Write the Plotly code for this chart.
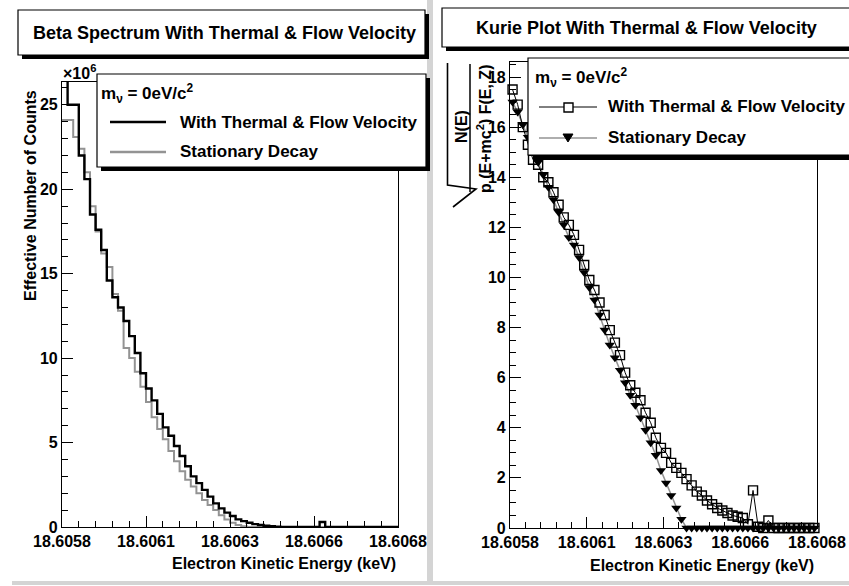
import numpy as np
import plotly.graph_objects as go

W, H = 849, 586

# ---------------- data ----------------
E_MIN, E_MAX, N_BINS = 18.6058, 18.6068, 60
x_tick_vals = [18.6058, 18.60605, 18.6063, 18.60655, 18.6068]
x_tick_text = ["18.6058", "18.6061", "18.6063", "18.6066", "18.6068"]
left_y_ticks = [0, 5, 10, 15, 20, 25]
right_y_ticks = [0, 2, 4, 6, 8, 10, 12, 14, 16, 18]

# effective number of counts (x10^6) per bin
thermal_counts = [27.0, 25.0, 25.0, 22.0, 20.6, 18.5, 17.6, 16.4, 14.6, 13.6,
                  13.0, 12.2, 11.3, 10.3, 9.1, 8.2, 7.5, 6.7, 5.9, 5.4,
                  4.8, 4.2, 3.6, 3.0, 2.6, 2.2, 1.8, 1.4, 1.1, 0.85,
                  0.65, 0.45, 0.35, 0.25, 0.17, 0.12, 0.07, 0.04, 0.02, 0.01,
                  0.005, 0.003, 0.002, 0.001, 0, 0, 0.3, 0, 0, 0,
                  0, 0, 0, 0, 0, 0, 0, 0, 0, 0]
stationary_counts = [24.1, 24.1, 23.1, 22.4, 21.0, 19.0, 17.5, 16.2, 15.4, 13.8,
                     12.8, 10.6, 10.0, 9.2, 8.3, 7.4, 6.5, 5.8, 5.2, 4.5,
                     3.9, 3.3, 2.8, 2.4, 2.0, 1.6, 1.3, 1.0, 0.7, 0.45,
                     0.25, 0.12, 0.05, 0, 0, 0, 0, 0, 0, 0,
                     0, 0, 0, 0, 0, 0, 0, 0, 0, 0,
                     0, 0, 0, 0, 0, 0, 0, 0, 0, 0]

# Kurie plot values per bin
kurie_thermal = [17.5, 16.9, 16.0, 15.3, 14.7, 14.5, 14.0, 13.8, 13.4, 12.9,
                 12.4, 12.1, 11.7, 11.1, 10.5, 9.9, 9.5, 9.0, 8.5, 7.9,
                 7.4, 6.9, 6.2, 5.7, 5.4, 5.1, 4.6, 4.2, 3.6, 3.2,
                 3.0, 2.6, 2.4, 2.2, 1.95, 1.7, 1.45, 1.3, 1.1, 0.95,
                 0.8, 0.7, 0.6, 0.5, 0.45, 0.4, 0.15, 1.5, 0.05, 0,
                 0.3, 0, 0, 0, 0, 0, 0, 0, 0, 0]
kurie_stationary = [17.0, 16.6, 16.1, 15.6, 15.1, 14.6, 14.1, 13.6, 13.1, 12.6,
                    12.1, 11.6, 11.3, 10.8, 10.2, 9.6, 9.1, 8.5, 7.9, 7.3,
                    6.8, 6.3, 5.8, 5.3, 4.9, 4.4, 3.9, 3.4, 2.9, 2.3,
                    1.8, 1.3, 0.8, 0.35, 0, 0, 0, 0, 0, 0,
                    0, 0, 0, 0, 0, 0, 0, 0, 0, 0,
                    0, 0, 0, 0, 0, 0, 0, 0, 0, 0]

# ---------------- helpers ----------------
edges = np.linspace(E_MIN, E_MAX, N_BINS + 1)
centers = 0.5 * (edges[:-1] + edges[1:])


def PX(x):
    return x / W


def PY(y):
    return 1 - y / H


FONT = "Liberation Sans, Arial, sans-serif"
GRAY = "#939393"

fig = go.Figure()

# left histograms
fig.add_trace(go.Scatter(x=edges, y=list(stationary_counts) + [stationary_counts[-1]],
                         mode="lines", line=dict(color=GRAY, width=2, shape="hv"),
                         xaxis="x", yaxis="y", showlegend=False, hoverinfo="skip"))
fig.add_trace(go.Scatter(x=edges, y=list(thermal_counts) + [thermal_counts[-1]],
                         mode="lines", line=dict(color="black", width=2.4, shape="hv"),
                         xaxis="x", yaxis="y", showlegend=False, hoverinfo="skip"))

# right Kurie plot
fig.add_trace(go.Scatter(x=centers, y=kurie_stationary, mode="lines+markers",
                         line=dict(color=GRAY, width=1.5),
                         marker=dict(symbol="triangle-down", size=9, color="black"),
                         xaxis="x2", yaxis="y2", cliponaxis=False, showlegend=False))
fig.add_trace(go.Scatter(x=centers, y=kurie_thermal, mode="lines+markers",
                         line=dict(color="black", width=1),
                         marker=dict(symbol="square-open", size=9, color="black",
                                     line=dict(width=1.4, color="black")),
                         xaxis="x2", yaxis="y2", cliponaxis=False, showlegend=False))

tickfont = dict(family=FONT, size=16, color="black", weight="bold")
minor_x = [v for v in np.round(np.arange(E_MIN, E_MAX + 1e-9, 0.00005), 6)]


def xaxis_cfg(x0, x1, anchor):
    return dict(domain=[PX(x0), PX(x1)], range=[E_MIN, E_MAX], anchor=anchor,
                automargin=False,
                tickmode="array", tickvals=x_tick_vals, ticktext=x_tick_text,
                ticks="inside", ticklen=11, tickwidth=1, tickcolor="black",
                minor=dict(tickmode="array", tickvals=minor_x, ticks="inside",
                           ticklen=6, tickwidth=1, tickcolor="black", showgrid=False),
                showline=True, mirror=True, linecolor="black", linewidth=1.2,
                showgrid=False, zeroline=False, tickfont=tickfont)


def yaxis_cfg(y0, y1, top, tickvals, minor_dt, anchor):
    return dict(domain=[PY(y0), PY(y1)], range=[0, top], anchor=anchor,
                automargin=False,
                tickmode="array", tickvals=tickvals,
                ticks="inside", ticklen=11, tickwidth=1, tickcolor="black",
                minor=dict(dtick=minor_dt, tick0=0, ticks="inside", ticklen=6, tickwidth=1,
                           tickcolor="black", showgrid=False),
                showline=True, mirror=True, linecolor="black", linewidth=1.2,
                showgrid=False, zeroline=False, tickfont=tickfont)


fig.update_layout(
    width=W, height=H, margin=dict(l=0, r=0, t=0, b=0, pad=0, autoexpand=False),
    paper_bgcolor="white", plot_bgcolor="white",
    xaxis=xaxis_cfg(62, 398, "y"),
    yaxis=yaxis_cfg(527, 82, 26.35, left_y_ticks, 1, "x"),
    xaxis2=xaxis_cfg(510, 817, "y2"),
    yaxis2=yaxis_cfg(528, 62, 18.6, right_y_ticks, 0.5, "x2"),
)

shapes = []
annotations = []


def rect(x0, y0, x1, y1, fill, line_color=None, lw=0):
    shapes.append(dict(type="rect", xref="paper", yref="paper",
                       x0=PX(x0), x1=PX(x1), y0=PY(y1), y1=PY(y0),
                       fillcolor=fill, line=dict(color=line_color or fill, width=lw),
                       layer="above"))


def line(x0, y0, x1, y1, color="black", width=1):
    shapes.append(dict(type="line", xref="paper", yref="paper",
                       x0=PX(x0), x1=PX(x1), y0=PY(y0), y1=PY(y1),
                       line=dict(color=color, width=width), layer="above"))


def path(points, color="black", width=1.5, fill=None):
    d = "M " + " L ".join(f"{PX(x):.5f},{PY(y):.5f}" for x, y in points)
    if fill:
        d += " Z"
    shapes.append(dict(type="path", xref="paper", yref="paper", path=d,
                       line=dict(color=color, width=width),
                       fillcolor=fill if fill else "rgba(0,0,0,0)", layer="above"))


def text(t, x, y, size=16, xanchor="center", angle=0):
    annotations.append(dict(text=t, x=PX(x), y=PY(y), xref="paper", yref="paper",
                            xanchor=xanchor, yanchor="middle", showarrow=False,
                            textangle=angle, borderpad=0,
                            font=dict(family=FONT, size=size, color="black", weight="bold")))


def pave(x0, y0, x1, y1, sh=4):
    rect(x0 + sh, y0 + sh, x1 + sh, y1 + sh, "black")
    rect(x0, y0, x1, y1, "white", "black", 1.2)


# pad borders
rect(427, 0, 433, 584, "#d4d4d4")
rect(12, 581, 849, 585, "#d4d4d4")

# titles
pave(18, 10, 425, 55)
text("Beta Spectrum With Thermal &amp; Flow Velocity", 224, 33, size=18)
pave(442, 8, 856, 47)
text("Kurie Plot With Thermal &amp; Flow Velocity", 646, 28, size=18)

# left legend
pave(97, 74, 426, 167)
text("m<sub>ν</sub> = 0eV/c<sup>2</sup>", 100, 93, size=17, xanchor="left")
line(110, 122, 166, 122, "black", 2.5)
text("With Thermal &amp; Flow Velocity", 179, 122, size=17, xanchor="left")
line(110, 152, 166, 152, GRAY, 2.5)
text("Stationary Decay", 179, 152, size=17, xanchor="left")

# right legend
pave(528, 58, 856, 155, sh=5)
text("m<sub>ν</sub> = 0eV/c<sup>2</sup>", 534, 77, size=17, xanchor="left")
line(539, 107, 597, 107, "black", 1)
rect(564, 103, 573, 112, "white", "black", 1.4)
text("With Thermal &amp; Flow Velocity", 607, 107, size=17, xanchor="left")
line(539, 138, 597, 138, GRAY, 1.5)
path([(563, 134), (573, 134), (568, 142)], "black", 1, fill="black")
text("Stationary Decay", 607, 138, size=17, xanchor="left")

# axis titles
text("Effective Number of Counts", 30, 196, size=16, angle=-90)
text("×10<sup>6</sup>", 62, 72, size=16, xanchor="left")
text("Electron Kinetic Energy (keV)", 397, 563, size=16, xanchor="right")
text("Electron Kinetic Energy (keV)", 815, 565, size=16, xanchor="right")

# Kurie y title: sqrt( N(E) / (p (E+mc^2) F(E,Z)) ), rotated
text("N(E)", 461, 127, size=16, angle=-90)
text("p (E+mc<sup>2</sup>) F(E, Z)", 484, 129, size=16, angle=-90)
line(470, 64, 470, 192, "black", 1.5)
path([(447.5, 63), (447.5, 185), (476, 189), (453, 207)], "black", 1.6)

fig.update_layout(shapes=shapes, annotations=annotations)
fig.write_html("out.html")
